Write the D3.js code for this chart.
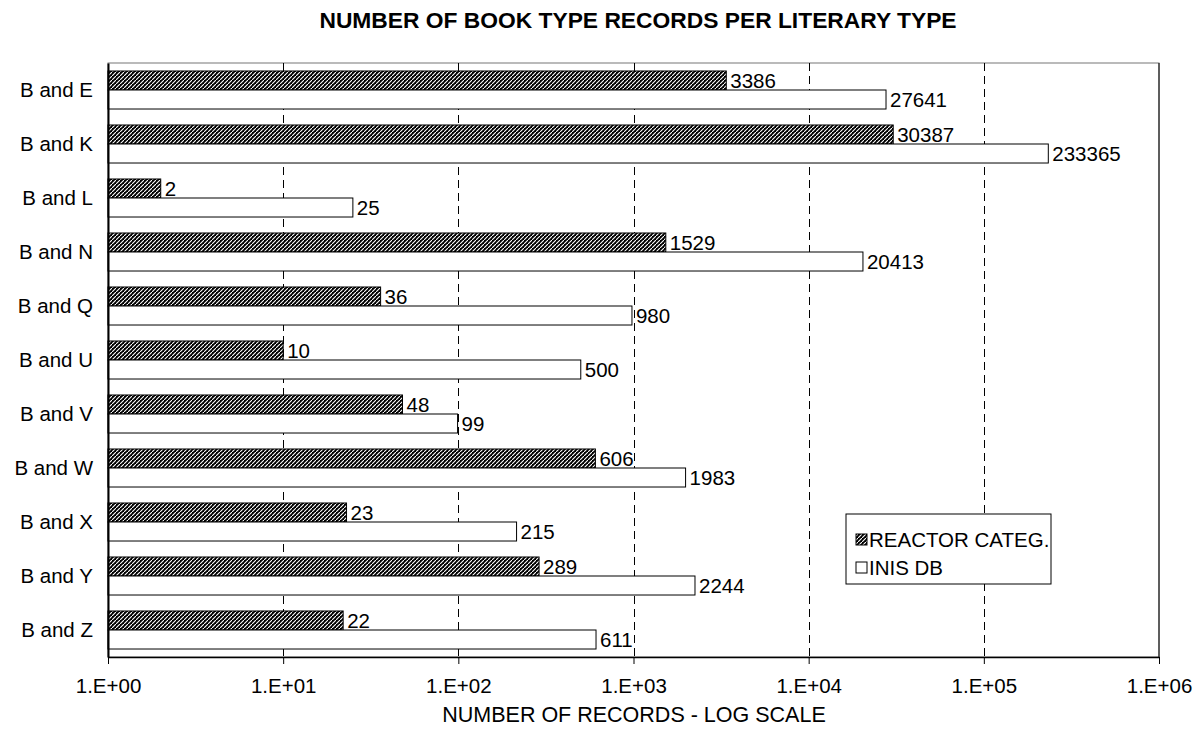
<!DOCTYPE html>
<html><head><meta charset="utf-8">
<script src="https://cdn.jsdelivr.net/npm/d3@7"></script>
<style>body{margin:0;background:#fff}svg{display:block;font-family:"Liberation Sans",Arial,sans-serif}</style>
</head><body><svg id="c" width="1201" height="737"></svg>
<script>
const categories = ["B and E","B and K","B and L","B and N","B and Q","B and U","B and V","B and W","B and X","B and Y","B and Z"];
const reactorValues = [3386,30387,2,1529,36,10,48,606,23,289,22];
const inisValues = [27641,233365,25,20413,980,500,99,1983,215,2244,611];
const seriesNames = ["REACTOR CATEG.","INIS DB"];
const tickValues = [1,10,100,1000,10000,100000,1000000];
const tickLabels = ["1.E+00","1.E+01","1.E+02","1.E+03","1.E+04","1.E+05","1.E+06"];

const FS = 20.5;
const svg = d3.select("#c");
const L=108, R=1159, T=63, B=657;
const defs = svg.append("defs");
const pat = defs.append("pattern").attr("id","hatch").attr("patternUnits","userSpaceOnUse").attr("width",4).attr("height",4);
pat.append("rect").attr("width",4).attr("height",4).attr("fill","#000");
pat.append("path").attr("d","M-1,5 L5,-1").attr("stroke","#fff").attr("stroke-width",1.1);

const x = d3.scaleLog().domain([1,1e6]).range([L,R]);
const y = d3.scaleBand().domain(categories).range([T,B]).paddingInner(0.296).paddingOuter(0.148);
const sub = d3.scaleBand().domain(seriesNames).range([0,y.bandwidth()]);

svg.append("rect").attr("x",L).attr("y",T).attr("width",R-L).attr("height",B-T).attr("fill","none").attr("stroke","#777").attr("stroke-width",1);
svg.append("line").attr("x1",R).attr("x2",R).attr("y1",T).attr("y2",B).attr("stroke","#000");
svg.append("g").selectAll("line").data(tickValues.slice(1,-1)).join("line")
  .attr("x1",d=>Math.round(x(d))+0.5).attr("x2",d=>Math.round(x(d))+0.5).attr("y1",T).attr("y2",B)
  .attr("stroke","#000").attr("stroke-dasharray","8,5").attr("stroke-width",1);

const data = categories.map((c,i)=>({c, vals:[{s:seriesNames[0],v:reactorValues[i]},{s:seriesNames[1],v:inisValues[i]}]}));
const g = svg.append("g");
data.forEach(d=>{
  d.vals.forEach((e,j)=>{
    const yy = y(d.c)+sub(e.s);
    g.append("rect").attr("x",x(1)).attr("y",yy).attr("width",x(e.v)-x(1)).attr("height",sub.bandwidth())
      .attr("fill", j===0?"url(#hatch)":"#fff").attr("stroke","#000").attr("stroke-width",1);
    g.append("text").attr("x",x(e.v)+4).attr("y",yy+sub.bandwidth()/2).attr("dy","0.36em")
      .attr("font-size",FS).text(e.v);
  });
});

const ya = svg.append("g").attr("transform",`translate(${L},0)`).call(d3.axisLeft(y).tickSize(0).tickPadding(15));
ya.select(".domain").attr("stroke","#000").attr("stroke-width",2);
ya.selectAll("text").attr("font-size",FS).attr("font-family","Liberation Sans, Arial, sans-serif").attr("fill","#000");

const xa = svg.append("g").attr("transform",`translate(0,${B})`).call(d3.axisBottom(x).tickValues(tickValues).tickFormat((d,i)=>tickLabels[i]).tickSize(7).tickSizeOuter(0).tickPadding(14));
xa.select(".domain").attr("stroke","#000").attr("stroke-width",1.5);
xa.selectAll("line").attr("stroke","#000");
xa.selectAll("text").attr("font-size",FS).attr("font-family","Liberation Sans, Arial, sans-serif").attr("fill","#000");

svg.append("text").attr("x",638).attr("y",28).attr("text-anchor","middle").attr("font-size",22.8).attr("font-weight","bold").text("NUMBER OF BOOK TYPE RECORDS PER LITERARY TYPE");
svg.append("text").attr("x",634).attr("y",722).attr("text-anchor","middle").attr("font-size",21.5).text("NUMBER OF RECORDS - LOG SCALE");

const lg = svg.append("g").attr("transform","translate(846,514)");
lg.append("rect").attr("width",205).attr("height",70).attr("fill","#fff").attr("stroke","#000");
seriesNames.forEach((s,i)=>{
  const ly = 26 + i*28;
  lg.append("rect").attr("x",10).attr("y",ly-6).attr("width",11).attr("height",11).attr("fill",i===0?"url(#hatch)":"#fff").attr("stroke","#000");
  lg.append("text").attr("x",23).attr("y",ly).attr("dy","0.36em").attr("font-size",FS).text(s);
});
</script></body></html>
